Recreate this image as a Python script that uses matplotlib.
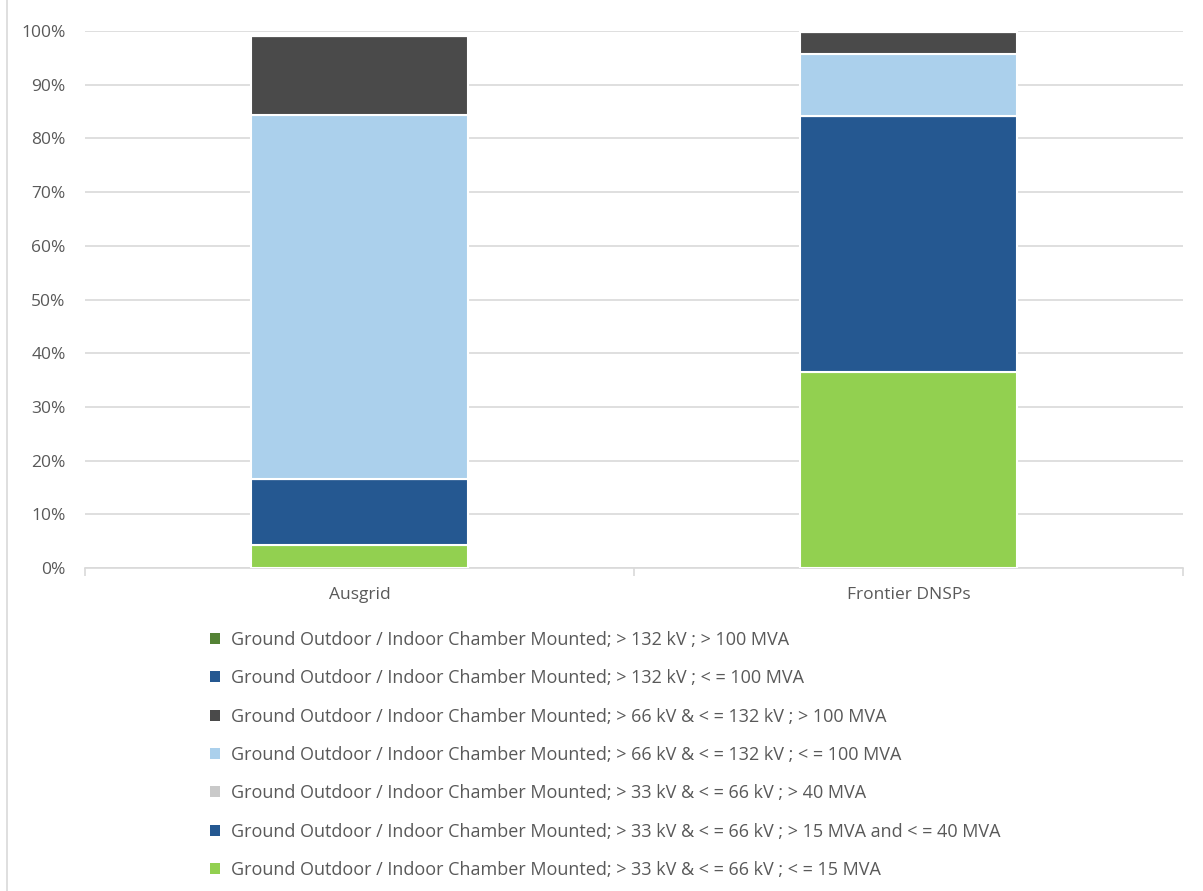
import matplotlib
matplotlib.use("Agg")
import matplotlib.pyplot as plt
from matplotlib.patches import Patch
from matplotlib.ticker import FuncFormatter, FixedLocator
import numpy as np

plt.rcParams['font.family'] = ['Open Sans', 'DejaVu Sans']

categories = ["Ausgrid", "Frontier DNSPs"]

# series in stacking order (bottom to top)
series_labels = [
    "Ground Outdoor / Indoor Chamber Mounted; > 33 kV & < = 66 kV ; < = 15 MVA",
    "Ground Outdoor / Indoor Chamber Mounted; > 33 kV & < = 66 kV ; > 15 MVA and < = 40 MVA",
    "Ground Outdoor / Indoor Chamber Mounted; > 33 kV & < = 66 kV ; > 40 MVA",
    "Ground Outdoor / Indoor Chamber Mounted; > 66 kV & < = 132 kV ; < = 100 MVA",
    "Ground Outdoor / Indoor Chamber Mounted; > 66 kV & < = 132 kV ; > 100 MVA",
    "Ground Outdoor / Indoor Chamber Mounted; > 132 kV ; < = 100 MVA",
    "Ground Outdoor / Indoor Chamber Mounted; > 132 kV ; > 100 MVA",
]
s33_66_le15 = [4.3, 36.5]
s33_66_15_40 = [12.3, 47.7]
s33_66_gt40 = [0.0, 0.0]
s66_132_le100 = [67.8, 11.5]
s66_132_gt100 = [14.6, 4.1]
s132_le100 = [0.0, 0.0]
s132_gt100 = [0.0, 0.0]
series_values = [s33_66_le15, s33_66_15_40, s33_66_gt40, s66_132_le100,
                 s66_132_gt100, s132_le100, s132_gt100]
colors = ["#92D050", "#255891", "#C9C9C9", "#ABD0EC", "#4A4A4A", "#255891", "#548235"]

fig = plt.figure(figsize=(12.03, 8.91), dpi=100)
ax = fig.add_axes([85/1203, (891-568)/891, (1183-85)/1203, (568-31)/891])

x = np.arange(len(categories))
bottom = np.zeros(len(categories))
for vals, col in zip(series_values, colors):
    v = np.array(vals, dtype=float)
    ax.bar(x, v, 0.394, bottom=bottom, color=col, edgecolor="white",
           linewidth=1.5, zorder=3)
    bottom += v

ax.set_xlim(-0.5, 1.5)
ax.set_ylim(0, 100)
ax.set_yticks(np.arange(0, 101, 10))
ax.yaxis.set_major_formatter(FuncFormatter(lambda v, p: f"{int(v)}%"))
ax.grid(axis="y", color="#D9D9D9", linewidth=1.2, zorder=0)
ax.set_axisbelow(True)
for s in ["top", "right", "left"]:
    ax.spines[s].set_visible(False)
ax.spines["bottom"].set_color("#D9D9D9")
ax.spines["bottom"].set_linewidth(1.2)

ax.set_xticks(x)
ax.set_xticklabels(categories)
ax.tick_params(axis="x", which="major", length=0, pad=14, labelsize=12.5, labelcolor="#595959")
ax.xaxis.set_minor_locator(FixedLocator([-0.5, 0.5, 1.5]))
ax.tick_params(axis="x", which="minor", length=6, color="#D9D9D9", width=1.2)
ax.tick_params(axis="y", length=0, pad=14, labelsize=12.5, labelcolor="#595959")

handles = [Patch(facecolor=c, edgecolor="none") for c in colors]
leg = fig.legend(handles[::-1], series_labels[::-1], loc="upper left",
                 bbox_to_anchor=(210/1203, 1 - 631/891), frameon=False,
                 fontsize=13, labelcolor="#595959", handlelength=0.55,
                 handleheight=0.55, handletextpad=0.6, labelspacing=1.125,
                 borderpad=0, borderaxespad=0)

fig.add_artist(plt.Line2D([7/1203, 7/1203], [0, 1], color="#D9D9D9", linewidth=1.2))

fig.savefig("out.png", dpi=100)
